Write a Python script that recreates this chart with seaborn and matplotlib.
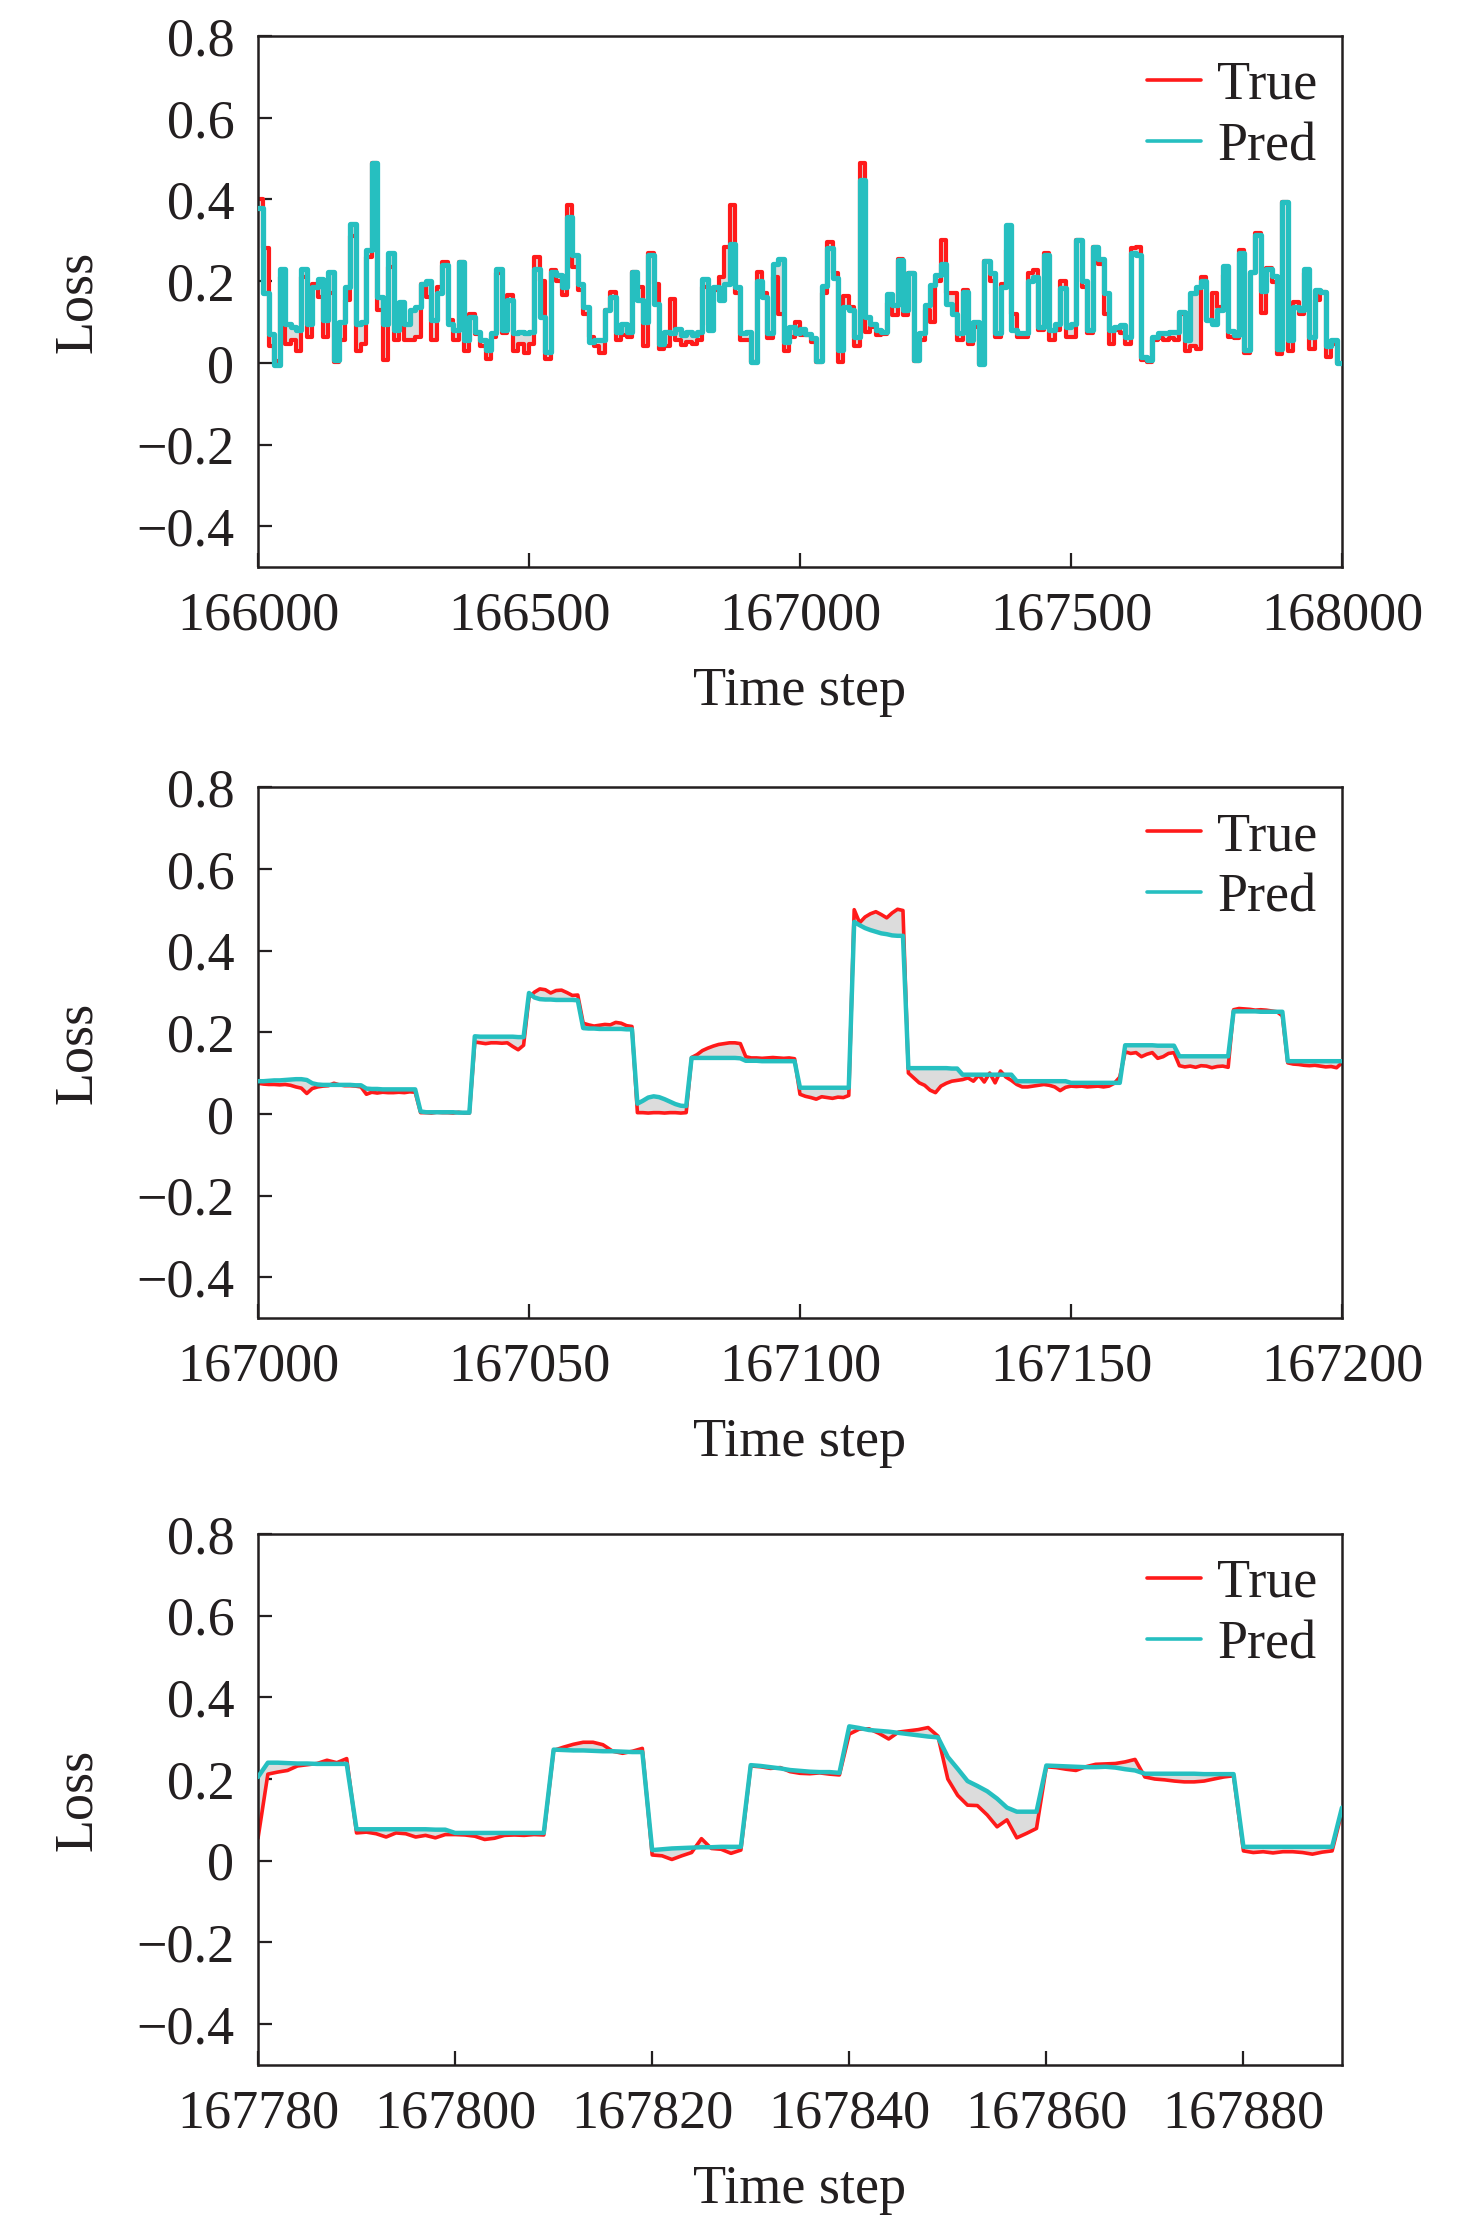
import numpy as np
import pandas as pd
import matplotlib
matplotlib.use('Agg')
import matplotlib.pyplot as plt
import seaborn as sns

# ---- data ----
# panel 1: one value per 10-step block, 166000..168000
p1_start = 166000
p1_block = 10
p1_pred = [0.38, 0.17, 0.07, -0.005, 0.23, 0.095, 0.088, 0.08, 0.23, 0.096,
           0.186, 0.206, 0.104, 0.223, 0.007, 0.10, 0.186, 0.34, 0.096, 0.10,
           0.276, 0.49, 0.16, 0.096, 0.268, 0.08, 0.15, 0.096, 0.13, 0.137,
           0.194, 0.20, 0.104, 0.17, 0.239, 0.096, 0.08, 0.247, 0.055, 0.113,
           0.076, 0.055, 0.031, 0.072, 0.23, 0.08, 0.153, 0.072, 0.076, 0.072,
           0.076, 0.23, 0.113, 0.027, 0.223, 0.215, 0.186, 0.357, 0.264, 0.194,
           0.137, 0.051, 0.055, 0.055, 0.13, 0.16, 0.076, 0.096, 0.076, 0.223,
           0.153, 0.10, 0.264, 0.145, 0.047, 0.076, 0.072, 0.084, 0.068, 0.076,
           0.068, 0.076, 0.206, 0.08, 0.186, 0.153, 0.194, 0.29, 0.186, 0.072,
           0.076, 0.002, 0.20, 0.16, 0.072, 0.243, 0.255, 0.051, 0.088, 0.072,
           0.082, 0.071, 0.060, 0.004, 0.189, 0.282, 0.208, 0.031, 0.137, 0.129,
           0.064, 0.447, 0.112, 0.096, 0.080, 0.076, 0.168, 0.141, 0.251, 0.129,
           0.219, 0.007, 0.072, 0.141, 0.19, 0.215, 0.243, 0.145, 0.12, 0.072,
           0.174, 0.055, 0.10, -0.002, 0.25, 0.219, 0.072, 0.186, 0.337, 0.08,
           0.072, 0.072, 0.20, 0.21, 0.088, 0.264, 0.08, 0.096, 0.182, 0.088,
           0.096, 0.30, 0.20, 0.08, 0.284, 0.255, 0.17, 0.08, 0.088, 0.092,
           0.064, 0.268, 0.264, 0.015, 0.007, 0.064, 0.072, 0.072, 0.076, 0.076,
           0.125, 0.055, 0.17, 0.186, 0.20, 0.104, 0.096, 0.13, 0.237, 0.077,
           0.068, 0.269, 0.032, 0.223, 0.314, 0.177, 0.229, 0.213, 0.034, 0.394,
           0.055, 0.137, 0.13, 0.23, 0.064, 0.178, 0.174, 0.04, 0.055, 0.0]
p1_true = [0.40, 0.28, 0.04, 0.005, 0.21, 0.045, 0.055, 0.03, 0.21, 0.064,
           0.194, 0.16, 0.064, 0.17, 0.002, 0.055, 0.153, 0.31, 0.03, 0.047,
           0.26, 0.49, 0.13, 0.007, 0.235, 0.055, 0.113, 0.055, 0.055, 0.064,
           0.194, 0.16, 0.055, 0.186, 0.247, 0.104, 0.055, 0.247, 0.03, 0.12,
           0.07, 0.04, 0.01, 0.064, 0.22, 0.072, 0.166, 0.03, 0.047, 0.023,
           0.047, 0.26, 0.20, 0.01, 0.227, 0.20, 0.166, 0.386, 0.235, 0.178,
           0.12, 0.064, 0.04, 0.023, 0.13, 0.174, 0.055, 0.068, 0.064, 0.223,
           0.186, 0.04, 0.268, 0.194, 0.035, 0.04, 0.157, 0.055, 0.043, 0.05,
           0.047, 0.055, 0.186, 0.092, 0.178, 0.21, 0.284, 0.386, 0.17, 0.055,
           0.055, 0.002, 0.223, 0.17, 0.06, 0.21, 0.12, 0.03, 0.064, 0.10,
           0.068, 0.069, 0.052, 0.003, 0.171, 0.297, 0.219, 0.003, 0.163, 0.137,
           0.041, 0.489, 0.075, 0.088, 0.067, 0.070, 0.146, 0.116, 0.253, 0.118,
           0.219, 0.005, 0.055, 0.13, 0.10, 0.20, 0.30, 0.17, 0.17, 0.055,
           0.178, 0.047, 0.088, -0.002, 0.25, 0.20, 0.064, 0.194, 0.276, 0.12,
           0.064, 0.064, 0.219, 0.227, 0.08, 0.27, 0.055, 0.08, 0.20, 0.064,
           0.064, 0.30, 0.186, 0.072, 0.284, 0.243, 0.12, 0.047, 0.08, 0.072,
           0.047, 0.28, 0.284, 0.006, 0.002, 0.055, 0.06, 0.055, 0.06, 0.055,
           0.12, 0.03, 0.04, 0.035, 0.21, 0.104, 0.17, 0.137, 0.215, 0.064,
           0.061, 0.277, 0.024, 0.22, 0.317, 0.123, 0.233, 0.199, 0.021, 0.394,
           0.03, 0.15, 0.12, 0.22, 0.035, 0.153, 0.174, 0.015, 0.045, 0.0]

# panel 2: every step, 167000..167200
p2_start = 167000
p2_pred = [0.080, 0.080, 0.081, 0.082, 0.082, 0.083, 0.084, 0.085, 0.085, 0.083,
           0.075, 0.072, 0.071, 0.071, 0.071, 0.071, 0.071, 0.071, 0.070, 0.070,
           0.062, 0.061, 0.061, 0.060, 0.060, 0.060, 0.060, 0.060, 0.060, 0.060,
           0.006, 0.004, 0.004, 0.004, 0.004, 0.004, 0.004, 0.003, 0.003, 0.003,
           0.190, 0.189, 0.189, 0.189, 0.189, 0.189, 0.189, 0.189, 0.188, 0.188,
           0.296, 0.285, 0.281, 0.280, 0.280, 0.279, 0.279, 0.279, 0.279, 0.278,
           0.210, 0.209, 0.209, 0.208, 0.208, 0.208, 0.208, 0.208, 0.207, 0.207,
           0.025, 0.032, 0.040, 0.043, 0.041, 0.036, 0.030, 0.024, 0.020, 0.019,
           0.137, 0.137, 0.137, 0.137, 0.137, 0.137, 0.137, 0.137, 0.137, 0.136,
           0.130, 0.130, 0.130, 0.129, 0.129, 0.129, 0.129, 0.129, 0.129, 0.129,
           0.064, 0.064, 0.064, 0.064, 0.064, 0.064, 0.064, 0.064, 0.064, 0.064,
           0.470, 0.462, 0.455, 0.450, 0.446, 0.442, 0.440, 0.437, 0.436, 0.436,
           0.112, 0.112, 0.112, 0.112, 0.112, 0.112, 0.112, 0.112, 0.111, 0.111,
           0.096, 0.096, 0.096, 0.096, 0.096, 0.096, 0.096, 0.096, 0.096, 0.096,
           0.080, 0.080, 0.080, 0.080, 0.080, 0.080, 0.080, 0.080, 0.080, 0.080,
           0.076, 0.076, 0.076, 0.076, 0.076, 0.076, 0.076, 0.076, 0.076, 0.076,
           0.168, 0.168, 0.168, 0.168, 0.168, 0.168, 0.167, 0.167, 0.167, 0.167,
           0.141, 0.141, 0.141, 0.141, 0.141, 0.141, 0.141, 0.141, 0.141, 0.141,
           0.251, 0.251, 0.251, 0.251, 0.251, 0.250, 0.250, 0.250, 0.250, 0.250,
           0.129, 0.129, 0.129, 0.129, 0.129, 0.129, 0.129, 0.129, 0.129, 0.129,
           0.129]
p2_true = [0.075, 0.073, 0.072, 0.072, 0.071, 0.072, 0.070, 0.066, 0.063, 0.050,
           0.062, 0.066, 0.068, 0.069, 0.075, 0.071, 0.069, 0.069, 0.068, 0.066,
           0.048, 0.053, 0.051, 0.053, 0.052, 0.052, 0.053, 0.052, 0.054, 0.053,
           0.003, 0.003, 0.002, 0.004, 0.003, 0.003, 0.002, 0.004, 0.002, 0.002,
           0.176, 0.174, 0.172, 0.174, 0.174, 0.173, 0.174, 0.165, 0.157, 0.168,
           0.285, 0.298, 0.306, 0.304, 0.296, 0.302, 0.303, 0.297, 0.290, 0.291,
           0.222, 0.218, 0.215, 0.217, 0.219, 0.218, 0.224, 0.222, 0.216, 0.214,
           0.003, 0.003, 0.002, 0.003, 0.003, 0.002, 0.003, 0.003, 0.002, 0.003,
           0.138, 0.145, 0.155, 0.161, 0.166, 0.170, 0.172, 0.174, 0.174, 0.172,
           0.140, 0.137, 0.137, 0.136, 0.137, 0.138, 0.137, 0.136, 0.137, 0.135,
           0.048, 0.043, 0.040, 0.036, 0.042, 0.040, 0.038, 0.041, 0.040, 0.045,
           0.500, 0.468, 0.482, 0.490, 0.495, 0.488, 0.480, 0.492, 0.501, 0.498,
           0.100, 0.088, 0.076, 0.070, 0.058, 0.052, 0.068, 0.075, 0.080, 0.082,
           0.084, 0.088, 0.080, 0.095, 0.078, 0.100, 0.076, 0.105, 0.090, 0.082,
           0.072, 0.066, 0.066, 0.068, 0.070, 0.072, 0.070, 0.066, 0.057, 0.065,
           0.068, 0.067, 0.068, 0.066, 0.067, 0.068, 0.066, 0.068, 0.075, 0.090,
           0.152, 0.148, 0.150, 0.140, 0.146, 0.150, 0.136, 0.140, 0.148, 0.150,
           0.118, 0.115, 0.117, 0.114, 0.118, 0.117, 0.113, 0.116, 0.117, 0.114,
           0.255, 0.258, 0.257, 0.256, 0.254, 0.255, 0.254, 0.252, 0.250, 0.240,
           0.125, 0.122, 0.121, 0.119, 0.118, 0.119, 0.117, 0.115, 0.116, 0.113,
           0.125]

# panel 3: every step, 167780..167890
p3_start = 167780
p3_pred = [0.205, 0.240, 0.240, 0.239, 0.238, 0.238, 0.237, 0.237, 0.237, 0.237,
           0.077, 0.077, 0.077, 0.077, 0.077, 0.077, 0.077, 0.077, 0.076, 0.076,
           0.068, 0.068, 0.068, 0.068, 0.068, 0.068, 0.068, 0.068, 0.068, 0.068,
           0.272, 0.271, 0.270, 0.270, 0.269, 0.268, 0.268, 0.267, 0.266, 0.266,
           0.026, 0.028, 0.030, 0.031, 0.032, 0.033, 0.033, 0.034, 0.034, 0.034,
           0.234, 0.232, 0.229, 0.226, 0.222, 0.220, 0.218, 0.217, 0.217, 0.215,
           0.329, 0.325, 0.320, 0.318, 0.316, 0.313, 0.310, 0.307, 0.304, 0.302,
           0.254, 0.225, 0.195, 0.183, 0.170, 0.152, 0.130, 0.120, 0.120, 0.120,
           0.233, 0.232, 0.231, 0.230, 0.229, 0.229, 0.230, 0.228, 0.224, 0.221,
           0.213, 0.213, 0.213, 0.213, 0.213, 0.213, 0.212, 0.212, 0.212, 0.212,
           0.034, 0.034, 0.034, 0.034, 0.034, 0.034, 0.034, 0.034, 0.034, 0.034,
           0.130]
p3_true = [0.055, 0.212, 0.217, 0.221, 0.232, 0.235, 0.238, 0.246, 0.240, 0.250,
           0.068, 0.070, 0.066, 0.058, 0.068, 0.066, 0.058, 0.062, 0.056, 0.064,
           0.064, 0.063, 0.060, 0.052, 0.055, 0.062, 0.063, 0.062, 0.064, 0.063,
           0.270, 0.278, 0.285, 0.290, 0.290, 0.284, 0.268, 0.263, 0.268, 0.275,
           0.014, 0.012, 0.003, 0.012, 0.020, 0.054, 0.030, 0.028, 0.018, 0.026,
           0.232, 0.230, 0.226, 0.228, 0.218, 0.214, 0.213, 0.215, 0.212, 0.210,
           0.310, 0.322, 0.323, 0.312, 0.298, 0.315, 0.318, 0.321, 0.326, 0.305,
           0.200, 0.160, 0.136, 0.135, 0.112, 0.083, 0.100, 0.056, 0.067, 0.079,
           0.230, 0.228, 0.224, 0.221, 0.230, 0.236, 0.237, 0.238, 0.242, 0.248,
           0.205, 0.200, 0.198, 0.195, 0.193, 0.193, 0.195, 0.200, 0.205, 0.208,
           0.024, 0.020, 0.022, 0.019, 0.022, 0.022, 0.020, 0.016, 0.021, 0.024,
           0.120]

y_ticks = [-0.4, -0.2, 0, 0.2, 0.4, 0.6, 0.8]
y_labels = ['\u22120.4', '\u22120.2', '0', '0.2', '0.4', '0.6', '0.8']
p1_xticks = [166000, 166500, 167000, 167500, 168000]
p2_xticks = [167000, 167050, 167100, 167150, 167200]
p3_xticks = [167780, 167800, 167820, 167840, 167860, 167880]

# ---- style ----
sns.set_style('white')
plt.rcParams['font.family'] = ['Liberation Serif', 'DejaVu Serif']
FS = 39
TXT = '#231f20'
RED = '#ff1a1a'
CYAN = '#26bfc0'
FILL = '#dcdcdc'

fig = plt.figure(figsize=(14.76, 22.28), dpi=100)
left, width, height = 0.1748, 0.7344, 0.2383
bottoms = [0.7455, 0.4084, 0.0732]
axes = [fig.add_axes([left, b, width, height]) for b in bottoms]


def make_frame(t, true, pred):
    return pd.DataFrame({'t': t, 'true': true, 'pred': pred})


# panel 1 as 10-step blocks
t1 = p1_start + p1_block * np.arange(len(p1_pred) + 1)
df1 = make_frame(t1, p1_true + [p1_true[-1]], p1_pred + [p1_pred[-1]])
df2 = make_frame(p2_start + np.arange(len(p2_pred)), p2_true, p2_pred)
df3 = make_frame(p3_start + np.arange(len(p3_pred)), p3_true, p3_pred)

panels = [
    (df1, (166000, 168000), p1_xticks, 'steps-post', 3.0, 3.8),
    (df2, (167000, 167200), p2_xticks, 'default', 2.6, 3.2),
    (df3, (167780, 167890), p3_xticks, 'default', 2.6, 3.2),
]

for ax, (df, xlim, xt, ds, lw_t, lw_p) in zip(axes, panels):
    step = 'post' if ds == 'steps-post' else None
    ax.fill_between(df['t'], df['true'], df['pred'], color=FILL, lw=0,
                    step=step, zorder=1)
    sns.lineplot(data=df, x='t', y='true', ax=ax, color=RED, lw=lw_t,
                 drawstyle=ds, label='True', zorder=2, estimator=None)
    sns.lineplot(data=df, x='t', y='pred', ax=ax, color=CYAN, lw=lw_p,
                 drawstyle=ds, label='Pred', zorder=3, estimator=None)

    ax.set_xlim(*xlim)
    ax.set_ylim(-0.5, 0.8)
    ax.set_xticks(xt)
    ax.set_xticklabels([str(v) for v in xt])
    ax.set_yticks(y_ticks)
    ax.set_yticklabels(y_labels)
    ax.tick_params(axis='x', direction='in', length=10, width=1.6,
                   labelsize=FS, colors=TXT, pad=17, top=False, bottom=True)
    ax.tick_params(axis='y', direction='in', length=10, width=1.6,
                   labelsize=FS, colors=TXT, pad=17, left=True, right=False)
    for sp in ax.spines.values():
        sp.set_visible(True)
        sp.set_linewidth(1.8)
        sp.set_color(TXT)
    ax.set_xlabel('Time step', fontsize=FS, color=TXT, labelpad=18)
    ax.set_ylabel('Loss', fontsize=FS, color=TXT, labelpad=24)
    leg = ax.legend(loc='upper right', frameon=False, fontsize=FS,
                    handlelength=1.0, handletextpad=0.3, labelspacing=0.2,
                    borderaxespad=0.25, borderpad=0.2, labelcolor=TXT)
    for h in leg.get_lines():
        h.set_linewidth(2.6)

fig.savefig('out.png', dpi=100)
